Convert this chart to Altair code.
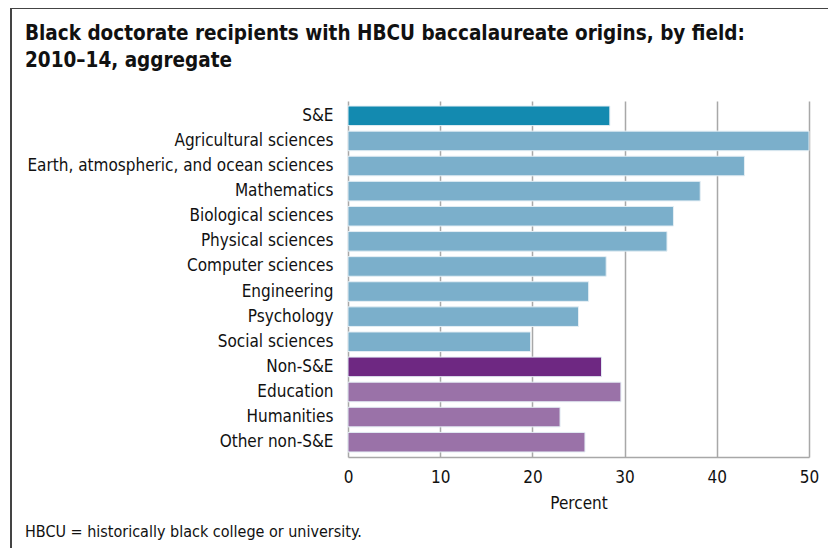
import altair as alt
import pandas as pd

categories = [
    "S&E",
    "Agricultural sciences",
    "Earth, atmospheric, and ocean sciences",
    "Mathematics",
    "Biological sciences",
    "Physical sciences",
    "Computer sciences",
    "Engineering",
    "Psychology",
    "Social sciences",
    "Non-S&E",
    "Education",
    "Humanities",
    "Other non-S&E",
]
values = [28.4, 50.0, 43.0, 38.2, 35.3, 34.6, 28.0, 26.1, 25.0, 19.8, 27.5, 29.6, 23.0, 25.7]
groups = (["S&E total"] + ["S&E field"] * 9 + ["Non-S&E total"] + ["Non-S&E field"] * 3)

group_domain = ["S&E total", "S&E field", "Non-S&E total", "Non-S&E field"]
group_colors = ["#138ab0", "#7bafcb", "#6e2882", "#9a72a8"]

title_lines = ["Black doctorate recipients with HBCU baccalaureate origins, by field:",
               "2010\u201314, aggregate"]
footnote = ["HBCU = historically black college or university."]
x_ticks = [0, 10, 20, 30, 40, 50]

FONT = "Liberation Sans Narrow, DejaVu Sans Condensed, Roboto Condensed, Arial Narrow, sans-serif"

df = pd.DataFrame({"field": categories, "pct": values, "group": groups})
note_df = pd.DataFrame({"note": footnote})

bars = alt.Chart(df).mark_bar(stroke="#e4eef4", strokeWidth=1).encode(
    y=alt.Y("field:N", sort=categories,
            scale=alt.Scale(paddingInner=0.22, paddingOuter=0.2),
            axis=alt.Axis(title=None, domain=False, ticks=False, labelPadding=15,
                          labelFontSize=17, labelFont=FONT, labelColor="#111",
                          labelLimit=400)),
    x=alt.X("pct:Q", scale=alt.Scale(domain=[0, 50], nice=False),
            axis=alt.Axis(title="Percent", values=x_ticks, grid=True, gridColor="#a8a8a8",
                          gridWidth=1.5, domainColor="#a8a8a8", domainWidth=1.5,
                          ticks=False, labelPadding=12, labelFontSize=17, labelFlush=False,
                          labelFont=FONT, labelColor="#111", titleFont=FONT,
                          titleFontSize=17, titleFontWeight="normal", titleColor="#111",
                          titlePadding=10)),
    color=alt.Color("group:N", scale=alt.Scale(domain=group_domain, range=group_colors),
                    legend=None),
)

frame_left = alt.Chart(note_df).mark_rule(color="#444", strokeWidth=2).encode(
    x=alt.value(-337), y=alt.value(-93), y2=alt.value(460)
)
frame_top = alt.Chart(note_df).mark_rule(color="#444", strokeWidth=2).encode(
    x=alt.value(-337), x2=alt.value(480), y=alt.value(-93)
)
note = alt.Chart(note_df).mark_text(
    align="left", baseline="alphabetic", fontSize=16, font=FONT, color="#111"
).encode(text="note:N", x=alt.value(-323), y=alt.value(436))

chart = alt.layer(frame_left, frame_top, bars, note).properties(
    width=461,
    height=356,
    autosize=alt.AutoSizeParams(type="none"),
    padding={"left": 340, "top": 93, "right": 21, "bottom": 91},
    title=alt.TitleParams(text=title_lines, anchor="start", frame="group", dx=-323,
                          dy=80, baseline="alphabetic", fontSize=20.5, font=FONT,
                          fontWeight="bold", color="#111", lineHeight=27, offset=0),
).configure_view(stroke=None)

chart.save("out.html", embed_options={"renderer": "svg", "actions": False})
